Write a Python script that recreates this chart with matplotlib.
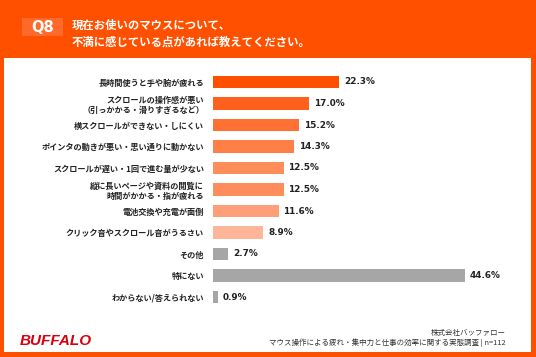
import matplotlib
matplotlib.use("Agg")
import matplotlib.pyplot as plt
from matplotlib.patches import Rectangle

plt.rcParams['font.family'] = ['Noto Sans CJK JP', 'DejaVu Sans']

categories = [
    "長時間使うと手や腕が疲れる",
    "スクロールの操作感が悪い\n（引っかかる・滑りすぎるなど）",
    "横スクロールができない・しにくい",
    "ポインタの動きが悪い・思い通りに動かない",
    "スクロールが遅い・1回で進む量が少ない",
    "縦に長いページや資料の閲覧に\n時間がかかる・指が疲れる",
    "電池交換や充電が面倒",
    "クリック音やスクロール音がうるさい",
    "その他",
    "特にない",
    "わからない/答えられない",
]
values = [22.3, 17.0, 15.2, 14.3, 12.5, 12.5, 11.6, 8.9, 2.7, 44.6, 0.9]
bar_colors = ["#FF5000", "#FF601D", "#FF7033", "#FF7F47", "#FF8C5B", "#FF8C5B",
              "#FF9F79", "#FFB698", "#A6A6A6", "#A6A6A6", "#A6A6A6"]

title_lines = ["現在お使いのマウスについて、", "不満に感じている点があれば教えてください。"]
footer_lines = ["株式会社バッファロー",
                "マウス操作による疲れ・集中力と仕事の効率に関する実態調査 | n=112"]

W, H = 536, 357
fig = plt.figure(figsize=(W / 100, H / 100), dpi=100)
fig.patch.set_facecolor("#FF5000")

def px(x, y):
    return x / W, 1 - y / H

# white panel
fig.patches.append(Rectangle((4 / W, 1 - 352 / H), 527 / W, (352 - 58) / H,
                             transform=fig.transFigure, facecolor="white",
                             edgecolor="none", zorder=0))
# Q8 box
fig.patches.append(Rectangle((22 / W, 1 - 36 / H), 41 / W, 18 / H,
                             transform=fig.transFigure, facecolor="#FF6A2A",
                             edgecolor="none", zorder=1))
fig.text(*px(42.5, 27.5), "Q8", color="white", fontsize=10.5, fontweight="bold",
         ha="center", va="center", family=["DejaVu Sans"])
fig.text(*px(72, 25.5), title_lines[0], color="white", fontsize=8.2,
         fontweight="bold", ha="left", va="center")
fig.text(*px(72, 42), title_lines[1], color="white", fontsize=8.2,
         fontweight="bold", ha="left", va="center")

# bars
x0 = 213
xmax = 50
scale = 5.65
top = 82 - 10.75
bot = 297 + 10.75
ax = fig.add_axes([x0 / W, 1 - bot / H, xmax * scale / W, (bot - top) / H])
ax.set_zorder(3)
ax.set_facecolor("none")
ypos = list(range(len(values)))
ax.barh(ypos, values, height=0.56, color=bar_colors)
ax.set_xlim(0, xmax)
ax.set_ylim(len(values) - 0.5, -0.5)
ax.set_yticks(ypos)
ax.set_yticklabels(categories, fontsize=5.9, fontweight="bold", color="#222222",
                   linespacing=1.15, multialignment="right")
ax.tick_params(axis="y", length=0, pad=6.5)
ax.set_xticks([])
for s in ax.spines.values():
    s.set_visible(False)
for y, v in zip(ypos, values):
    ax.annotate(f"{v:.1f}%", (v, y), xytext=(3.5, 0), textcoords="offset points",
                ha="left", va="center", fontsize=6.4, fontweight="bold",
                color="#222222", family=["DejaVu Sans"])

# footer
fig.text(*px(20, 341), "BUFFALO", color="#D7000F", fontsize=11,
         fontweight="bold", style="italic", ha="left", va="center",
         family=["Liberation Sans Narrow", "Liberation Sans", "DejaVu Sans"])
fig.text(*px(506, 333), footer_lines[0], color="#333333", fontsize=5.4,
         ha="right", va="center")
fig.text(*px(506, 343), footer_lines[1], color="#333333", fontsize=5.4,
         ha="right", va="center")

fig.savefig("out.png", dpi=100, facecolor=fig.get_facecolor())
